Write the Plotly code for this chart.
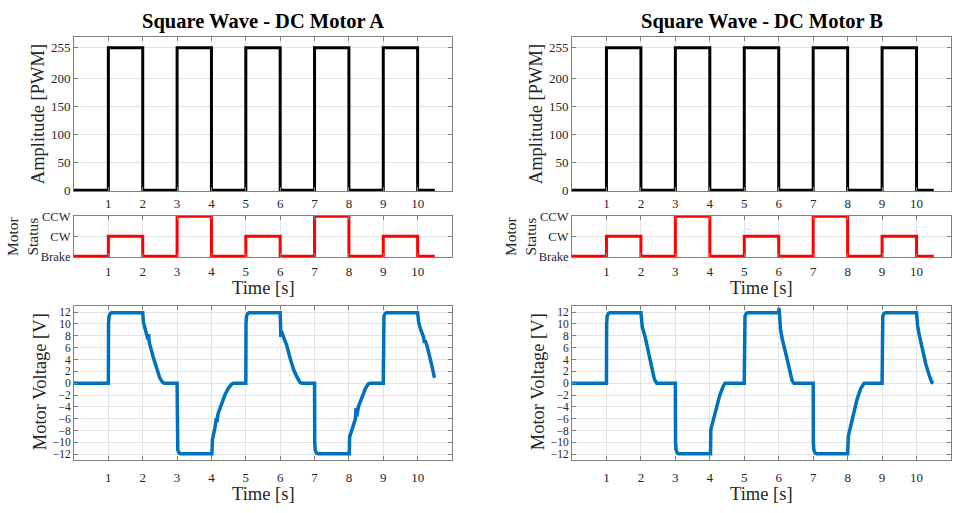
import plotly.graph_objects as go

# ---------------- data ----------------
pwm_times = [0, 1, 2, 3, 4, 5, 6, 7, 8, 9, 10, 10.5]
pwm_levels = [0, 255, 0, 255, 0, 255, 0, 255, 0, 255, 0, 0]

status_times = [0, 1, 2, 3, 4, 5, 6, 7, 8, 9, 10, 10.5]
status_levels = [0, 1, 0, 2, 0, 1, 0, 2, 0, 1, 0, 0]   # 0=Brake, 1=CW, 2=CCW
status_labels = ["Brake", "CW", "CCW"]

voltA_t = [0, 1.0, 1.005, 1.02, 1.06, 1.1,
           2.0, 2.02, 2.06, 2.1, 2.15, 2.17, 2.19, 2.3, 2.39, 2.49, 2.57, 2.63,
           3.0, 3.005, 3.02, 3.06, 3.1,
           4.0, 4.01, 4.03, 4.06, 4.1, 4.14, 4.16, 4.19, 4.29, 4.39, 4.49, 4.58, 4.64,
           5.0, 5.005, 5.02, 5.06, 5.1,
           6.0, 6.02, 6.03, 6.06, 6.1, 6.19, 6.29, 6.39, 6.49, 6.58, 6.63,
           7.0, 7.005, 7.02, 7.06, 7.1,
           8.0, 8.01, 8.02, 8.09, 8.185, 8.21, 8.23, 8.28, 8.38, 8.48, 8.57, 8.62,
           9.0, 9.005, 9.02, 9.06, 9.1,
           10.0, 10.03, 10.08, 10.17, 10.2, 10.22, 10.27, 10.37, 10.42, 10.49]
voltA_v = [0, 0, 10.0, 11.3, 11.8, 11.9,
           11.9, 10.3, 9.4, 8.6, 7.4, 8.3, 6.9, 4.5, 2.6, 1.0, 0.2, 0,
           0, -10.0, -11.3, -11.8, -11.9,
           -11.9, -12.2, -9.5, -8.8, -7.6, -5.9, -6.6, -5.2, -3.4, -2.0, -0.9, -0.2, 0,
           0, 10.0, 11.3, 11.8, 11.9,
           11.9, 7.8, 8.8, 8.4, 7.8, 6.4, 4.2, 2.3, 1.0, 0.15, 0,
           0, -10.0, -11.3, -11.8, -11.9,
           -11.9, -12.2, -9.1, -8.0, -6.1, -4.2, -5.6, -3.9, -2.3, -0.9, -0.1, 0,
           0, 10.0, 11.3, 11.8, 11.9,
           11.9, 10.3, 9.2, 7.8, 6.8, 7.2, 6.4, 4.3, 2.8, 0.9]

voltB_t = [0, 1.0, 1.005, 1.02, 1.06, 1.1,
           2.0, 2.04, 2.12, 2.21, 2.31, 2.39, 2.46,
           3.0, 3.005, 3.02, 3.06, 3.1,
           4.0, 4.02, 4.03, 4.1, 4.19, 4.29, 4.39, 4.44,
           5.0, 5.005, 5.02, 5.06, 5.1,
           6.0, 6.005, 6.02, 6.05, 6.1, 6.19, 6.29, 6.39, 6.44,
           7.0, 7.005, 7.02, 7.06, 7.1,
           8.0, 8.02, 8.09, 8.19, 8.28, 8.38, 8.48,
           9.0, 9.005, 9.02, 9.06, 9.1,
           10.0, 10.03, 10.08, 10.17, 10.27, 10.37, 10.44, 10.49]
voltB_v = [0, 0, 10.0, 11.3, 11.8, 11.9,
           11.9, 9.5, 7.9, 5.7, 2.9, 0.7, 0,
           0, -10.0, -11.3, -11.8, -11.9,
           -11.9, -11.9, -7.8, -6.1, -3.9, -2.0, -0.5, 0,
           0, 10.0, 11.3, 11.8, 11.9,
           11.9, 12.7, 11.9, 9.2, 7.5, 5.4, 2.6, 0.4, 0,
           0, -10.0, -11.3, -11.8, -11.9,
           -11.9, -8.9, -7.2, -4.5, -2.6, -0.9, 0,
           0, 10.0, 11.3, 11.8, 11.9,
           11.9, 9.7, 8.1, 5.6, 3.2, 1.3, 0.2, 0]

time_ticks = [1, 2, 3, 4, 5, 6, 7, 8, 9, 10]
pwm_ticks = [0, 50, 100, 150, 200, 255]
volt_ticks = [-12, -10, -8, -6, -4, -2, 0, 2, 4, 6, 8, 10, 12]
titles = ["Square Wave - DC Motor A", "Square Wave - DC Motor B"]

# ---------------- layout geometry ----------------
W, H = 958, 513
FONT = "Liberation Serif"
cols = [(74, 452), (572, 951)]
rows = {"top": (32, 190), "mid": (215, 257.5), "bot": (308, 466)}


def xd(a, b):
    return [a / W, b / W]


def yd(top, bot):
    return [1 - bot / H, 1 - top / H]


axis_common = dict(
    showline=True, linecolor="#7f7f7f", linewidth=1, mirror="allticks",
    ticks="inside", ticklen=4, tickcolor="#7f7f7f",
    showgrid=True, gridcolor="#e3e3e3", gridwidth=1, zeroline=False,
    tickfont=dict(family=FONT, size=13, color="#262626"),
)

fig = go.Figure()
layout = dict(
    width=W, height=H, margin=dict(l=0, r=0, t=0, b=0),
    paper_bgcolor="white", plot_bgcolor="white", showlegend=False,
    font=dict(family=FONT),
)
annotations = []

volts = [(voltA_t, voltA_v), (voltB_t, voltB_v)]
for c, (x0, x1) in enumerate(cols):
    base = 3 * c
    i = base + 1
    fig.add_trace(go.Scatter(x=pwm_times, y=pwm_levels, mode="lines", line_shape="hv",
                             line=dict(color="black", width=3), xaxis=f"x{i}", yaxis=f"y{i}"))
    i = base + 2
    fig.add_trace(go.Scatter(x=status_times, y=status_levels, mode="lines", line_shape="hv",
                             line=dict(color="#ff0000", width=3), xaxis=f"x{i}", yaxis=f"y{i}"))
    i = base + 3
    fig.add_trace(go.Scatter(x=volts[c][0], y=volts[c][1], mode="lines",
                             line=dict(color="#0072BD", width=3.5), xaxis=f"x{i}", yaxis=f"y{i}"))

    for k, (rname, yr, yt, ytt, yfs) in enumerate([
        ("top", [-1.5, 274], pwm_ticks, None, 13),
        ("mid", [-0.04, 2.04], [0, 1, 2], status_labels, 12.5),
        ("bot", [-13, 13], volt_ticks, None, 11.5),
    ]):
        i = base + k + 1
        xa = dict(axis_common, domain=xd(x0, x1), range=[0, 11], tickvals=time_ticks,
                  anchor=f"y{i}")
        if rname == "bot":
            xa["ticklabelstandoff"] = 5
        elif rname == "mid":
            xa["ticklabelstandoff"] = 2
        ya = dict(axis_common, domain=yd(*rows[rname]), range=yr, tickvals=yt,
                  anchor=f"x{i}", tickfont=dict(family=FONT, size=yfs, color="#262626"))
        if ytt is not None:
            ya["ticktext"] = ytt
        sfx = "" if i == 1 else str(i)
        layout["xaxis" + sfx] = xa
        layout["yaxis" + sfx] = ya

    off = x0 - 74
    annotations.append(dict(text=f"<b>{titles[c]}</b>", x=(x0 + x1) / 2 / W, y=1 - 16 / H,
                            xref="paper", yref="paper", showarrow=False,
                            font=dict(family=FONT, size=20.5, color="black"),
                            xanchor="center", yanchor="middle"))
    annotations.append(dict(text="Amplitude [PWM]", x=(38 + off) / W, y=1 - 111 / H,
                            xref="paper", yref="paper", showarrow=False, textangle=-90,
                            font=dict(family=FONT, size=18.5, color="#262626"),
                            xanchor="center", yanchor="middle"))
    annotations.append(dict(text="Motor<br>Status", x=(22 + off) / W, y=1 - 236 / H,
                            xref="paper", yref="paper", showarrow=False, textangle=-90,
                            font=dict(family=FONT, size=15.5, color="#262626"),
                            xanchor="center", yanchor="middle"))
    annotations.append(dict(text="Motor Voltage [V]", x=(40 + off) / W, y=1 - 386 / H,
                            xref="paper", yref="paper", showarrow=False, textangle=-90,
                            font=dict(family=FONT, size=18.5, color="#262626"),
                            xanchor="center", yanchor="middle"))
    for yc in (289, 501):
        annotations.append(dict(text="Time [s]", x=(x0 + x1) / 2 / W, y=1 - yc / H,
                                xref="paper", yref="paper", showarrow=False,
                                font=dict(family=FONT, size=18.5, color="#262626"),
                                xanchor="center", yanchor="middle"))

layout["annotations"] = annotations
fig.update_layout(**layout)
fig.write_html("out.html", config={"displayModeBar": False},
               post_script="document.body.style.margin='0';document.body.style.overflow='hidden';")
